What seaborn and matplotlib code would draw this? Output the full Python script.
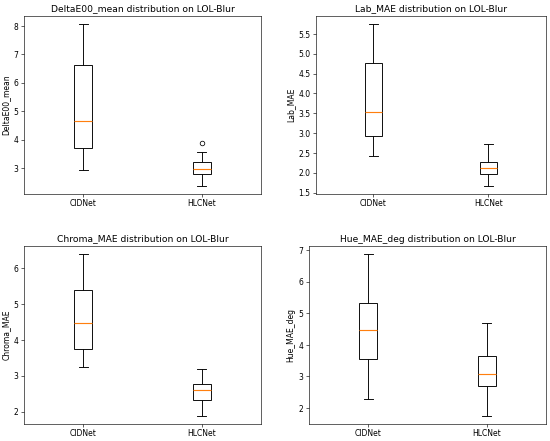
import pandas as pd
import numpy as np
import seaborn as sns
import matplotlib
matplotlib.use('Agg')
import matplotlib.pyplot as plt

models = ['CIDNet', 'HLCNet']
metrics = ['DeltaE00_mean', 'Lab_MAE', 'Chroma_MAE', 'Hue_MAE_deg']
dataset = 'LOL-Blur'

# per-image scores (min, q1, median, q3, max ...)
deltae_cidnet = [2.92, 3.70, 4.65, 6.62, 8.07]
deltae_hlcnet = [2.37, 2.55, 2.77, 2.88, 2.97, 3.08, 3.20, 3.57, 3.87]
lab_cidnet = [2.41, 2.92, 3.53, 4.76, 5.75]
lab_hlcnet = [1.67, 1.97, 2.13, 2.28, 2.73]
chroma_cidnet = [3.25, 3.75, 4.48, 5.40, 6.40]
chroma_hlcnet = [1.88, 2.32, 2.61, 2.77, 3.18]
hue_cidnet = [2.28, 3.55, 4.48, 5.33, 6.88]
hue_hlcnet = [1.75, 2.70, 3.08, 3.65, 4.68]

scores = {
    'DeltaE00_mean': (deltae_cidnet, deltae_hlcnet),
    'Lab_MAE': (lab_cidnet, lab_hlcnet),
    'Chroma_MAE': (chroma_cidnet, chroma_hlcnet),
    'Hue_MAE_deg': (hue_cidnet, hue_hlcnet),
}

fig, axes = plt.subplots(2, 2, figsize=(10, 8.02), dpi=55)

positions = [
    [0.0436, 0.5601, 0.4309, 0.4036],
    [0.5745, 0.5601, 0.4182, 0.4036],
    [0.0436, 0.0385, 0.4309, 0.4036],
    [0.5618, 0.0385, 0.4309, 0.4036],
]

for ax, metric, pos in zip(axes.flat, metrics, positions):
    rows = []
    for model, vals in zip(models, scores[metric]):
        for v in vals:
            rows.append({'model': model, metric: v})
    df = pd.DataFrame(rows)

    sns.boxplot(data=df, x='model', y=metric, ax=ax, order=models,
                width=0.15, color='white', linecolor='black', linewidth=1.2,
                capwidths=0.075,
                medianprops={'color': '#ff7f0e', 'linewidth': 1.5},
                flierprops={'marker': 'o', 'markerfacecolor': 'none',
                            'markeredgecolor': 'black', 'markersize': 6})
    for cont in ax.containers:
        for med in cont.medians:
            med.set_color('#ff7f0e')
            med.set_zorder(5)
    ax.set_xlim(-0.5, 1.5)
    ax.set_title(f'{metric} distribution on {dataset}')
    ax.set_xlabel('')
    ax.set_ylabel(metric)
    ax.set_position(pos)

plt.savefig('out.png')
